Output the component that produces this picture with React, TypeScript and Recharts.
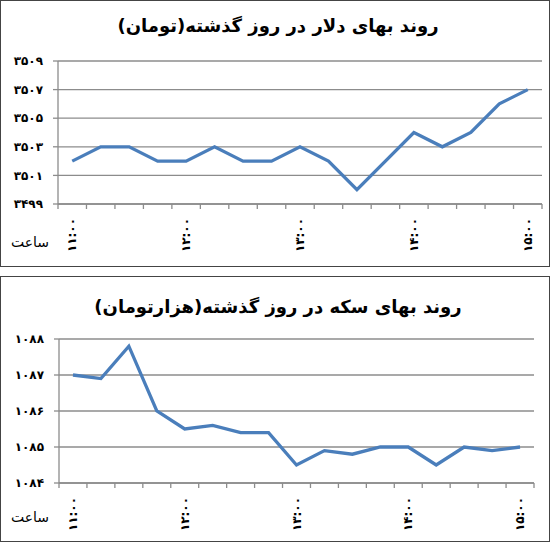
import React from "react";
import { LineChart, Line, XAxis, YAxis, CartesianGrid } from "recharts";

// 15-minute readings from 11:00 to 15:00
const times = [
  "۱۱:۰۰", "۱۱:۱۵", "۱۱:۳۰", "۱۱:۴۵",
  "۱۲:۰۰", "۱۲:۱۵", "۱۲:۳۰", "۱۲:۴۵",
  "۱۳:۰۰", "۱۳:۱۵", "۱۳:۳۰", "۱۳:۴۵",
  "۱۴:۰۰", "۱۴:۱۵", "۱۴:۳۰", "۱۴:۴۵",
  "۱۵:۰۰",
];
const shownTimes = ["۱۱:۰۰", "۱۲:۰۰", "۱۳:۰۰", "۱۴:۰۰", "۱۵:۰۰"];

const dollar = [3502, 3503, 3503, 3502, 3502, 3503, 3502, 3502, 3503, 3502, 3500, 3502, 3504, 3503, 3504, 3506, 3507];
const coin = [1087, 1086.9, 1087.8, 1086, 1085.5, 1085.6, 1085.4, 1085.4, 1084.5, 1084.9, 1084.8, 1085, 1085, 1084.5, 1085, 1084.9, 1085];

const dollarTicks = [3499, 3501, 3503, 3505, 3507, 3509];
const coinTicks = [1084, 1085, 1086, 1087, 1088];

const dollarTitle = "روند بهای دلار در روز گذشته(تومان)";
const coinTitle = "روند بهای سکه در روز گذشته(هزارتومان)";
const hourLabel = "ساعت";

const FA = "'DejaVu Sans', sans-serif";
const LINE = "#4A7EBB";
const GRID = "#8c8c8c";

const faDigits = (n: number) => String(n).replace(/\d/g, (d) => "۰۱۲۳۴۵۶۷۸۹"[Number(d)]);

// tick marks sit between categories, labels sit on some categories
const boundaries = times.map((_, i) => i - 0.5).concat(times.length - 0.5);
const labelIdx = times.map((t, i) => (shownTimes.includes(t) ? i : -1)).filter((i) => i >= 0);
const xTicks = [...boundaries, ...labelIdx].sort((a, b) => a - b);

const TimeTick = (props: any) => {
  const { x, y, payload } = props;
  const v = payload.value;
  if (Number.isInteger(v)) {
    const ty = y + 14;
    return (
      <text
        x={x}
        y={ty}
        transform={`rotate(-90 ${x} ${ty})`}
        textAnchor="end"
        dominantBaseline="central"
        fontFamily={FA}
        fontWeight="bold"
        fontSize={12}
        letterSpacing={1.5}
        fill="#000"
      >
        {times[v]}
      </text>
    );
  }
  return <line x1={x} y1={y} x2={x} y2={y + 5} stroke={GRID} strokeWidth={1.3} />;
};

type PanelProps = {
  top: number;
  height: number;
  title: string;
  titleY: number;
  values: number[];
  ticks: number[];
  plotLeft: number;
  plotRight: number;
  plotTop: number;
  plotBottom: number;
  hourY: number;
};

const Panel = ({ top, height, title, titleY, values, ticks, plotLeft, plotRight, plotTop, plotBottom, hourY }: PanelProps) => {
  const data = values.map((v, i) => ({ i, v }));
  const axisH = 40;
  return (
    <>
      <div
        style={{
          position: "absolute",
          left: 0,
          top,
          width: 550,
          height,
          boxSizing: "border-box",
          border: "1.5px solid #444",
        }}
      />
      <div
        dir="rtl"
        style={{
          position: "absolute",
          left: 0,
          top: top + titleY - 13,
          width: 556,
          textAlign: "center",
          fontFamily: FA,
          fontWeight: "bold",
          fontSize: 18,
          lineHeight: "26px",
          color: "#000",
        }}
      >
        {title}
      </div>
      <div
        dir="rtl"
        style={{
          position: "absolute",
          left: 11,
          top: top + hourY - 10,
          fontFamily: FA,
          fontSize: 14,
          lineHeight: "20px",
          color: "#000",
        }}
      >
        {hourLabel}
      </div>
      <div style={{ position: "absolute", left: 0, top }}>
        <LineChart
          width={550}
          height={height}
          data={data}
          margin={{ top: plotTop, right: 550 - plotRight, left: 0, bottom: height - plotBottom - axisH }}
        >
          <CartesianGrid vertical={false} stroke={GRID} strokeWidth={1.3} />
          <XAxis
            dataKey="i"
            type="number"
            domain={[-0.5, times.length - 0.5]}
            ticks={xTicks}
            interval={0}
            height={axisH}
            tickSize={0}
            tickMargin={0}
            tickLine={false}
            axisLine={{ stroke: GRID, strokeWidth: 1.3 }}
            tick={<TimeTick />}
          />
          <YAxis
            type="number"
            domain={[ticks[0], ticks[ticks.length - 1]]}
            ticks={ticks}
            interval={0}
            width={plotLeft}
            tickSize={5}
            tickMargin={10}
            tickLine={{ stroke: GRID, strokeWidth: 1.3 }}
            axisLine={{ stroke: GRID, strokeWidth: 1.3 }}
            tickFormatter={faDigits}
            tick={{ fill: "#000", fontFamily: FA, fontWeight: "bold", fontSize: 12, letterSpacing: 3.5 }}
          />
          <Line
            dataKey="v"
            type="linear"
            stroke={LINE}
            strokeWidth={3.3}
            dot={false}
            activeDot={false}
            isAnimationActive={false}
          />
        </LineChart>
      </div>
    </>
  );
};

export default function App() {
  return (
    <div style={{ position: "absolute", left: 0, top: 0, width: 550, height: 543, background: "#fff" }}>
      <Panel
        top={0}
        height={267}
        title={dollarTitle}
        titleY={26}
        values={dollar}
        ticks={dollarTicks}
        plotLeft={58}
        plotRight={542}
        plotTop={61}
        plotBottom={204}
        hourY={242}
      />
      <Panel
        top={276}
        height={266}
        title={coinTitle}
        titleY={31}
        values={coin}
        ticks={coinTicks}
        plotLeft={59}
        plotRight={534}
        plotTop={63}
        plotBottom={207}
        hourY={241}
      />
    </div>
  );
}
